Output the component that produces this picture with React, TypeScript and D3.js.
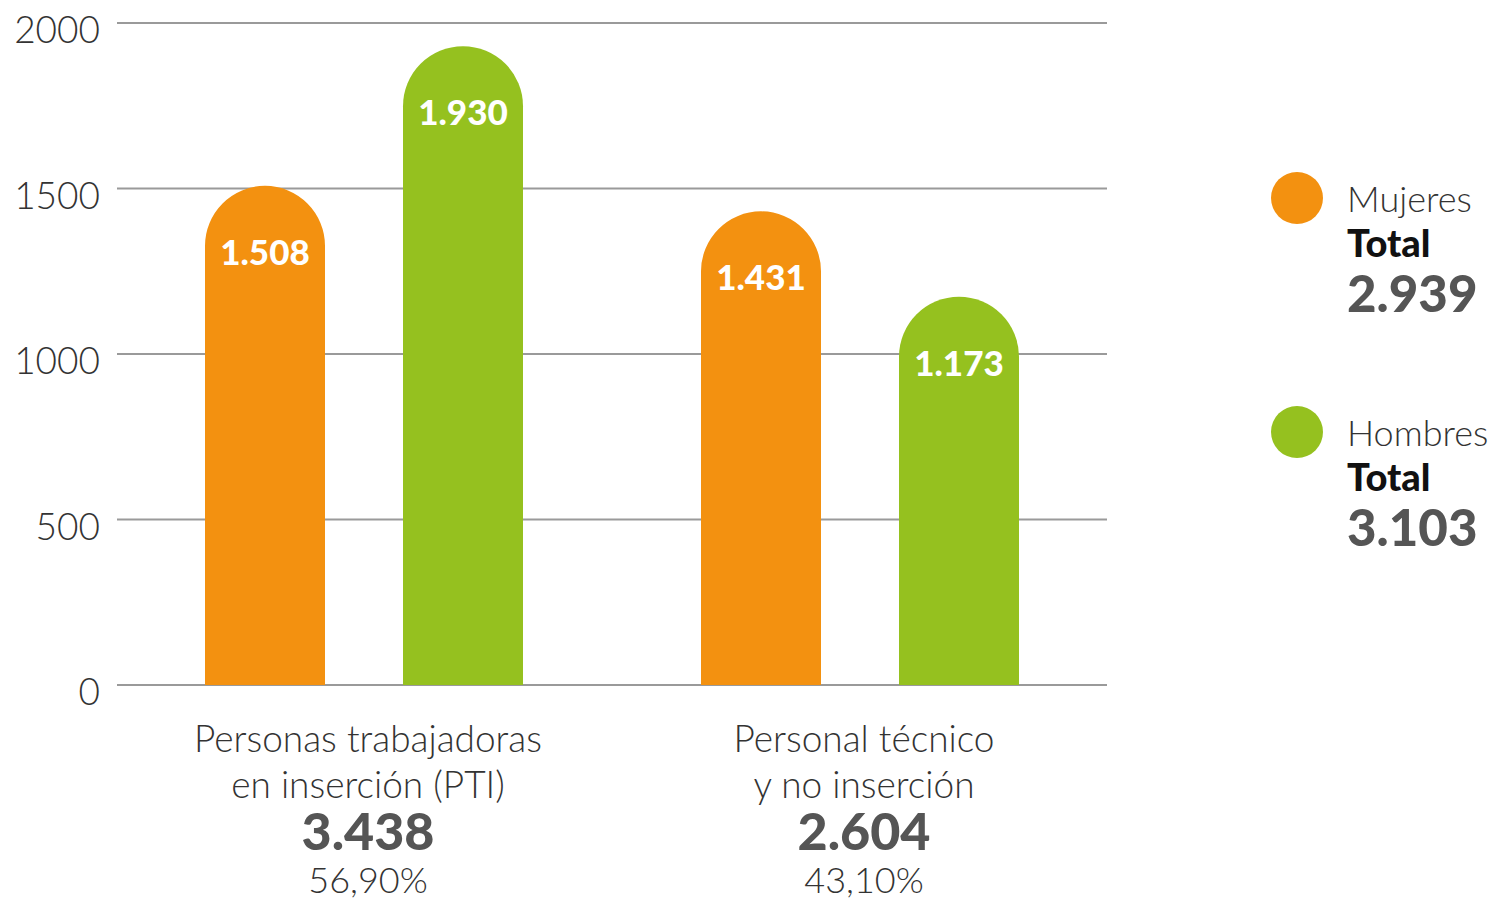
import React from "react";
import * as d3 from "d3";

const categories = ["Personas trabajadoras|en inserción (PTI)", "Personal técnico|y no inserción"];
const categoryTotals = ["3.438", "2.604"];
const categoryPcts = ["56,90%", "43,10%"];
const seriesNames = ["Mujeres", "Hombres"];
const seriesColors = ["#F39110", "#95C11F"];
const mujeres = [1508, 1431];
const hombres = [1930, 1173];
const seriesTotals = ["2.939", "3.103"];
const yTicks = [0, 500, 1000, 1500, 2000];

const W = 1499, H = 901;
const FONT = "Lato, 'Open Sans', sans-serif";

function fmt(v: number) {
  const s = String(v);
  return s.length > 3 ? s.slice(0, s.length - 3) + "." + s.slice(-3) : s;
}

function barPath(x: number, w: number, yTop: number, yBase: number) {
  const r = w / 2;
  return `M${x},${yBase} L${x},${yTop + r} A${r},${r} 0 0 1 ${x + w},${yTop + r} L${x + w},${yBase} Z`;
}

export default function App() {
  const y = d3.scaleLinear().domain([0, 2000]).range([685, 23]);
  const x0 = d3.scaleBand().domain(categories).range([116, 1108]).paddingInner(0).paddingOuter(0);
  const x1 = d3.scalePoint().domain(seriesNames).range([149, 347]);
  const data = [mujeres, hombres];
  const bw = 120;
  return (
    <svg width={W} height={H} style={{ position: "absolute", left: 0, top: 0, background: "#fff" }}>
      {yTicks.map((t) => (
        <g key={t}>
          <line x1={117} x2={1107} y1={y(t)} y2={y(t)} stroke="#9a9a9a" strokeWidth={2} />
          <text x={100} y={y(t) + 20} textAnchor="end" fontFamily={FONT} fontWeight={300} fontSize={37} fill="#333">{t}</text>
        </g>
      ))}
      {categories.map((c, ci) =>
        seriesNames.map((s, si) => {
          const v = data[si][ci];
          const cx = (x0(c) as number) + (x1(s) as number);
          const bx = cx - bw / 2;
          return (
            <g key={c + s}>
              <path d={barPath(bx, bw, y(v), y(0))} fill={seriesColors[si]} />
              <text x={cx} y={y(v) + 79} textAnchor="middle" fontFamily={FONT} fontWeight={900} fontSize={35} fill="#fff">{fmt(v)}</text>
            </g>
          );
        })
      )}
      {categories.map((c, ci) => {
        const cx = (x0(c) as number) + x0.bandwidth() / 2 + 4;
        const lines = c.split("|");
        return (
          <g key={c}>
            {lines.map((l, li) => (
              <text key={li} x={cx} y={752 + li * 46} textAnchor="middle" fontFamily={FONT} fontWeight={300} fontSize={37} fill="#333">{l}</text>
            ))}
            <text x={cx} y={850} textAnchor="middle" fontFamily={FONT} fontWeight={900} fontSize={52} fill="#555">{categoryTotals[ci]}</text>
            <text x={cx} y={893} textAnchor="middle" fontFamily={FONT} fontWeight={300} fontSize={36} fill="#333">{categoryPcts[ci]}</text>
          </g>
        );
      })}
      {seriesNames.map((s, si) => {
        const cy = 198 + si * 234;
        return (
          <g key={s}>
            <circle cx={1297} cy={cy} r={26} fill={seriesColors[si]} />
            <text x={1347} y={cy + 14} fontFamily={FONT} fontWeight={300} fontSize={36} fill="#333">{s}</text>
            <text x={1347} y={cy + 59} fontFamily={FONT} fontWeight={900} fontSize={38} fill="#111">Total</text>
            <text x={1347} y={cy + 114} fontFamily={FONT} fontWeight={900} fontSize={51} fill="#555">{seriesTotals[si]}</text>
          </g>
        );
      })}
    </svg>
  );
}
